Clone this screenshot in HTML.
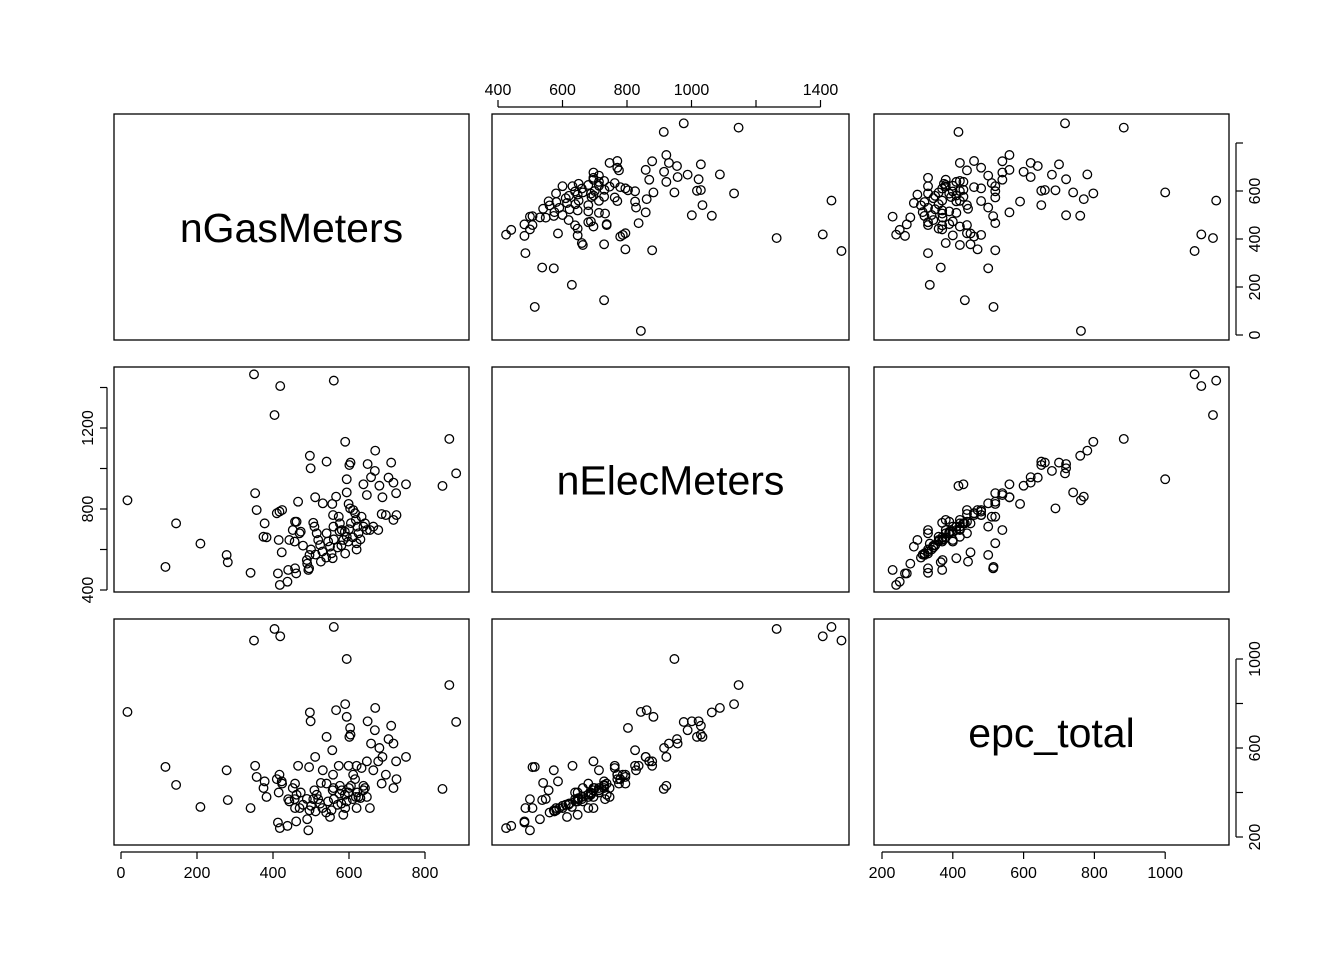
<!DOCTYPE html>
<html><head><meta charset="utf-8"><style>
html,body{margin:0;padding:0;background:#fff;}
svg{display:block;font-family:"Liberation Sans",Arial,sans-serif;}
</style></head><body>
<svg id="chart" width="1344" height="960" viewBox="0 0 1344 960"></svg>
<script>
const gas=[17,145,117,209,278,281,341,350,419,404,560,353,357,378,375,383,410,417,424,415,423,413,418,438,440,458,461,443,452,458,462,466,470,473,457,479,489,496,495,493,506,509,511,497,499,515,519,524,526,531,541,541,550,554,557,556,558,559,566,573,576,581,585,589,594,598,590,594,594,599,603,611,616,601,604,618,622,625,620,633,638,642,647,638,647,649,658,668,669,655,664,677,680,688,686,697,704,717,711,724,717,725,750,846,864,882,500,530,545,560,570,580,600,610,620,630,540,512,590,605,575,490];
const elec=[843,729,514,629,573,537,485,1465,1407,1264,1434,878,795,729,663,660,779,787,795,647,586,482,425,441,499,507,482,647,696,737,737,836,680,688,639,619,548,573,507,499,732,713,858,1063,1001,680,647,622,540,828,1034,680,614,581,557,825,770,713,861,762,729,696,647,688,663,639,1132,947,882,825,803,795,779,1017,1029,746,713,680,631,762,713,729,696,922,869,1022,957,988,1088,696,713,696,915,858,775,770,955,930,1029,878,746,770,922,914,1146,976,600,590,640,650,610,620,700,660,600,650,560,575,580,730,690,530];
const epc=[762,434,515,335,500,366,330,1083,1102,1135,1144,520,470,450,420,380,460,480,440,400,450,265,240,250,370,330,270,360,420,440,390,520,330,400,370,345,371,320,514,230,370,410,560,760,720,390,370,350,443,500,650,440,290,320,410,590,480,420,770,520,430,410,300,390,360,400,797,1000,740,520,690,480,460,650,660,380,400,380,520,510,410,420,380,430,540,720,620,680,780,330,500,540,600,560,440,480,640,620,700,540,420,460,560,416,883,717,340,330,360,370,345,350,420,370,330,375,310,315,330,430,395,280];
const gasTicks=[0,200,400,600,800];
const elecTicks=[400,600,800,1000,1200,1400];
const epcTicks=[200,400,600,800,1000];
const varNames=["nGasMeters","nElecMeters","epc_total"];

const NS="http://www.w3.org/2000/svg";
const svg=document.getElementById('chart');
const colX=[[114,469],[492,849],[874,1229]];
const rowY=[[114,340],[367,592],[619,845]];
const sx=[v=>121+0.38*v, v=>498+0.3225*(v-400), v=>882+0.354*(v-200)];
const sy=[v=>335-0.24*v, v=>590-0.2025*(v-400), v=>837-0.2225*(v-200)];
const data=[gas,elec,epc];
function mk(tag,attrs,parent){const e=document.createElementNS(NS,tag);for(const k in attrs)e.setAttribute(k,attrs[k]);(parent||svg).appendChild(e);return e;}

for(let r=0;r<3;r++){for(let c=0;c<3;c++){
  const g=mk('g',{});
  
  
  const box=mk('rect',{x:colX[c][0],y:rowY[r][0],width:colX[c][1]-colX[c][0],height:rowY[r][1]-rowY[r][0],fill:'none',stroke:'#000','stroke-width':1.3},g);
  
  
  if(r===c){
    const t=mk('text',{x:(colX[c][0]+colX[c][1])/2,y:(rowY[r][0]+rowY[r][1])/2+15,'text-anchor':'middle','font-size':41},g);
    t.textContent=varNames[r];
    
    
  } else {
    const xs=data[c], ys=data[r];
    for(let i=0;i<xs.length;i++){
      const p=mk('circle',{cx:sx[c](xs[i]),cy:sy[r](ys[i]),r:4.3,fill:'none',stroke:'#000','stroke-width':1.3},g);
      
      
    }
  }
}}

function axis(kind,ticks,labels,fn,pos,name){
  const g=mk('g',{});
  
  
  const p0=fn(ticks[0]),p1=fn(ticks[ticks.length-1]);
  if(kind==='bottom'||kind==='top'){
    const d=kind==='bottom'?7:-7;
    mk('line',{x1:p0,x2:p1,y1:pos,y2:pos,stroke:'#000','stroke-width':1.2},g);
    ticks.forEach(t=>{const x=fn(t);mk('line',{x1:x,x2:x,y1:pos,y2:pos+d,stroke:'#000','stroke-width':1.2},g);
      if(labels.includes(t)){const tx=mk('text',{x:x,y:kind==='bottom'?pos+26:pos-12,'text-anchor':'middle','font-size':16},g);tx.textContent=t;
        
        }});
  } else {
    const d=kind==='right'?7:-7;
    mk('line',{x1:pos,x2:pos,y1:p0,y2:p1,stroke:'#000','stroke-width':1.2},g);
    ticks.forEach(t=>{const y=fn(t);mk('line',{x1:pos,x2:pos+d,y1:y,y2:y,stroke:'#000','stroke-width':1.2},g);
      if(labels.includes(t)){const lx=kind==='right'?pos+24:pos-14;
        const tx=mk('text',{x:lx,y:y,'text-anchor':'middle','font-size':16,transform:'rotate(-90 '+lx+' '+y+')'},g);tx.textContent=t;
        
        }});
  }
}
axis('bottom',gasTicks,[0,200,400,600,800],sx[0],852,'x-axis-gas');
axis('top',elecTicks,[400,600,800,1000,1400],sx[1],107,'x-axis-elec');
axis('bottom',epcTicks,[200,400,600,800,1000],sx[2],852,'x-axis-epc');
axis('right',gasTicks,[0,200,400,600],sy[0],1236,'y-axis-gas');
axis('left',elecTicks,[400,800,1200],sy[1],107,'y-axis-elec');
axis('right',epcTicks,[200,600,1000],sy[2],1236,'y-axis-epc');
</script>
</body></html>
